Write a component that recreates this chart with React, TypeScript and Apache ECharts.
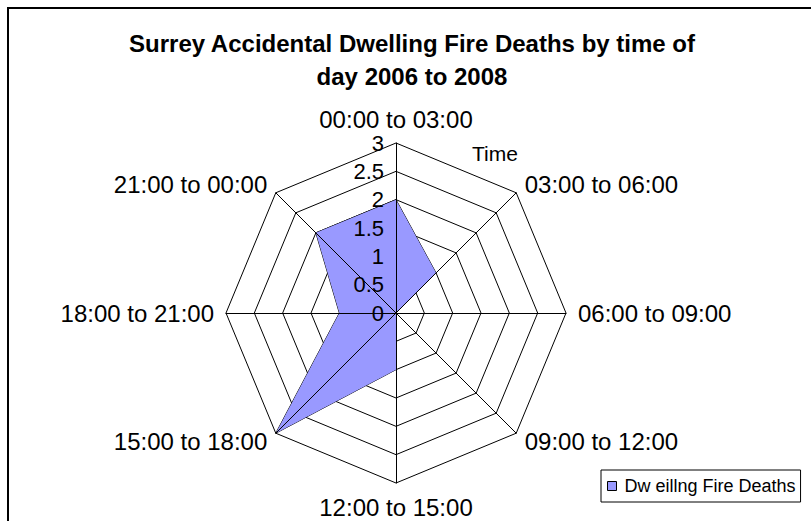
import React, { useEffect, useRef } from "react";
import * as echarts from "echarts";

const titleText = "Surrey Accidental Dwelling Fire Deaths by time of\nday 2006 to 2008";
const categories = [
  "00:00 to 03:00",
  "03:00 to 06:00",
  "06:00 to 09:00",
  "09:00 to 12:00",
  "12:00 to 15:00",
  "15:00 to 18:00",
  "18:00 to 21:00",
  "21:00 to 00:00",
];
const seriesName = "Dw eillng Fire Deaths";
const deaths = [2, 1, 0, 0, 1, 3, 1, 2];
const axisMax = 3;
const axisSplits = 6;
const axisTitle = "Time";

export default function App() {
  const ref = useRef<HTMLDivElement>(null);
  useEffect(() => {
    if (!ref.current) return;
    const chart = echarts.init(ref.current, null, { renderer: "svg" });
    // ECharts places radar indicators counter-clockwise; reverse to get clockwise order
    const order = [0, ...categories.map((_, i) => i).slice(1).reverse()];
    const font = "Arial, 'Liberation Sans', sans-serif";
    const indicatorBase = order.map((i) => ({ name: categories[i], max: axisMax, min: 0 }));
    const indicatorTop = order.map((i, k) => {
      const ind: any = { name: categories[i], max: axisMax, min: 0 };
      if (k === 0) ind.axisLabel = { show: true };
      return ind;
    });
    const values = order.map((i) => deaths[i]);
    const common = {
      center: [396, 313],
      radius: 170,
      startAngle: 90,
      shape: "polygon",
      splitNumber: axisSplits,
      nameGap: 12,
      axisTick: { show: false },
      splitArea: { show: false },
    };
    chart.setOption({
      animation: false,
      backgroundColor: "#ffffff",
      title: {
        text: titleText,
        left: 407,
        textAlign: "center",
        top: 22,
        textStyle: {
          fontSize: 24,
          fontWeight: "bold",
          color: "#000",
          fontFamily: font,
          lineHeight: 33,
        },
      },
      legend: {
        left: 601,
        top: 470,
        orient: "vertical",
        padding: [7, 5, 7, 6],
        borderColor: "#000",
        borderWidth: 1,
        icon: "rect",
        itemWidth: 9,
        itemHeight: 9,
        itemGap: 5,
        itemStyle: { borderColor: "#000", borderWidth: 1 },
        textStyle: { fontSize: 18, color: "#000", fontFamily: font, padding: [0, 0, 0, 3] },
        data: [seriesName],
      },
      radar: [
        {
          ...common,
          z: 0,
          indicator: indicatorBase,
          axisName: { color: "#000", fontSize: 24, fontFamily: font, lineHeight: 24 },
          axisLine: { show: false },
          splitLine: { lineStyle: { color: "#000", width: 1 } },
          axisLabel: { show: false },
        },
        {
          ...common,
          z: 5,
          indicator: indicatorTop,
          axisName: { show: false },
          axisLine: { lineStyle: { color: "#000", width: 1 } },
          splitLine: { show: false },
          axisLabel: {
            show: false,
            color: "#000",
            fontSize: 22,
            lineHeight: 20,
            fontFamily: font,
            margin: 12,
          },
        },
      ],
      series: [
        {
          type: "radar",
          radarIndex: 0,
          name: seriesName,
          symbol: "none",
          z: 2,
          itemStyle: { color: "#9999ff", borderColor: "#000" },
          lineStyle: { color: "#000", width: 1 },
          areaStyle: { color: "#9999ff", opacity: 1 },
          data: [{ value: values, name: seriesName }],
        },
      ],
      graphic: [
        {
          type: "rect",
          shape: { x: 8, y: 8, width: 820, height: 530 },
          style: { fill: "none", stroke: "#000", lineWidth: 2 },
          silent: true,
          z: 100,
        },
        {
          type: "text",
          x: 472,
          y: 143,
          style: { text: axisTitle, fontSize: 21, fill: "#000", fontFamily: font },
        },
      ],
    });
    return () => chart.dispose();
  }, []);
  return (
    <div
      ref={ref}
      style={{ position: "fixed", left: 0, top: 0, width: 811, height: 521 }}
    />
  );
}
